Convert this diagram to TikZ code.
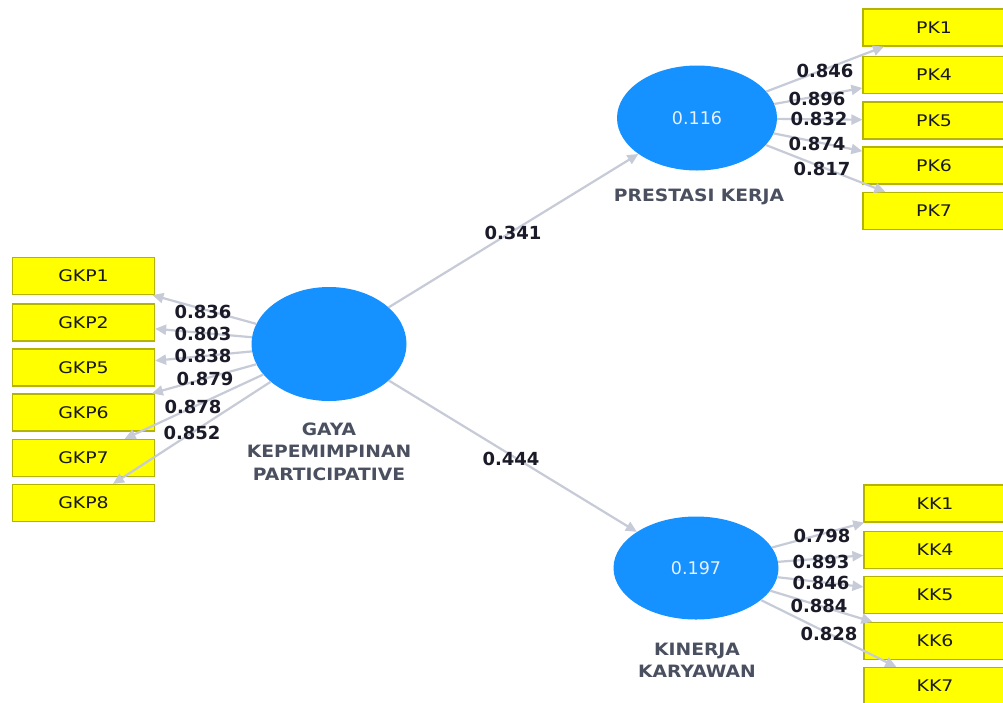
\documentclass[tikz,border=0pt]{standalone}
\usepackage{fontspec}
\setmainfont{DejaVu Sans}
\newfontfamily\labfont[FakeStretch=1.1]{DejaVu Sans}
\newfontfamily\indfont[FakeStretch=1.18]{DejaVu Sans}
\usetikzlibrary{shapes.geometric,arrows.meta}
\definecolor{lvcol}{HTML}{1592FF}
\definecolor{conncol}{HTML}{C6CBD7}
\definecolor{boxbd}{HTML}{B4B400}
\definecolor{boxfill}{HTML}{FFFF00}
\definecolor{lblcol}{HTML}{4A5060}
\definecolor{numcol}{HTML}{1A1A28}
\definecolor{lvtext}{HTML}{E6F0FF}
\tikzset{
 latent/.style={ellipse, fill=lvcol, inner sep=0pt, text=lvtext, font=\fontsize{17.5}{18}\selectfont},
 ind/.style={rectangle, fill=boxfill, draw=boxbd, line width=1.2pt, minimum width=142pt, minimum height=37pt, inner sep=0pt, font=\indfont\fontsize{16}{16}\selectfont, text=black!90},
 connector/.style={draw=conncol, line width=2.2pt, -{Triangle[length=11pt,width=10pt]}},
 coef/.style={font=\bfseries\fontsize{18}{18}\selectfont, text=numcol, inner sep=0pt},
 lvname/.style={font=\labfont\bfseries\fontsize{17}{22.5}\selectfont, text=lblcol, align=center, inner sep=0pt},
}
\begin{document}
\begin{tikzpicture}[x=1pt,y=-1pt]
\useasboundingbox (0,0) rectangle (1003,702);
\fill[white] (0,0) rectangle (1003,702);

% latent variables
\node[latent, minimum width=155pt, minimum height=114pt] (gkp) at (329,344) {};
\node[latent, minimum width=160pt, minimum height=105pt] (pk) at (697,118) {0.116};
\node[latent, minimum width=165pt, minimum height=103pt] (kk) at (696,568) {0.197};

% latent names
\node[lvname] (gkpname) at (329,451.5) {GAYA\\KEPEMIMPINAN\\PARTICIPATIVE};
\node[lvname] (pkname) at (699,197) {PRESTASI KERJA};
\node[lvname] (kkname) at (697,660.5) {KINERJA\\KARYAWAN};

% indicators GKP
\node[ind] (gkp1) at (83.5,276) {GKP1};
\node[ind] (gkp2) at (83.5,322.5) {GKP2};
\node[ind] (gkp5) at (83.5,367.5) {GKP5};
\node[ind] (gkp6) at (83.5,412.5) {GKP6};
\node[ind] (gkp7) at (83.5,458) {GKP7};
\node[ind] (gkp8) at (83.5,503) {GKP8};

% indicators PK
\node[ind] (pk1) at (934,27.5) {PK1};
\node[ind] (pk4) at (934,75) {PK4};
\node[ind] (pk5) at (934,120.5) {PK5};
\node[ind] (pk6) at (934,165.5) {PK6};
\node[ind] (pk7) at (934,211) {PK7};

% indicators KK
\node[ind] (kk1) at (935,503.5) {KK1};
\node[ind] (kk4) at (935,550) {KK4};
\node[ind] (kk5) at (935,595) {KK5};
\node[ind] (kk6) at (935,641) {KK6};
\node[ind] (kk7) at (935,686) {KK7};

% connectors
\foreach \t in {gkp1,gkp2,gkp5,gkp6,gkp7,gkp8} \draw[connector] (gkp) -- (\t);
\foreach \t in {pk1,pk4,pk5,pk6,pk7} \draw[connector] (pk) -- (\t);
\foreach \t in {kk1,kk4,kk5,kk6,kk7} \draw[connector] (kk) -- (\t);
\draw[connector] (gkp) -- (pk);
\draw[connector] (gkp) -- (kk);

% coefficients
\node[coef] (c1) at (203,312) {0.836};
\node[coef] (c2) at (203,334) {0.803};
\node[coef] (c3) at (203,356) {0.838};
\node[coef] (c4) at (205,379) {0.879};
\node[coef] (c5) at (193,407) {0.878};
\node[coef] (c6) at (192,433) {0.852};

\node[coef] (p1) at (825,71) {0.846};
\node[coef] (p2) at (817,99) {0.896};
\node[coef] (p3) at (819,119) {0.832};
\node[coef] (p4) at (817,144) {0.874};
\node[coef] (p5) at (822,169) {0.817};

\node[coef] (k1) at (822,536) {0.798};
\node[coef] (k2) at (821,562) {0.893};
\node[coef] (k3) at (821,583) {0.846};
\node[coef] (k4) at (819,606) {0.884};
\node[coef] (k5) at (829,634) {0.828};

\node[coef] (s1) at (513,233) {0.341};
\node[coef] (s2) at (511,459) {0.444};
\end{tikzpicture}
\end{document}
